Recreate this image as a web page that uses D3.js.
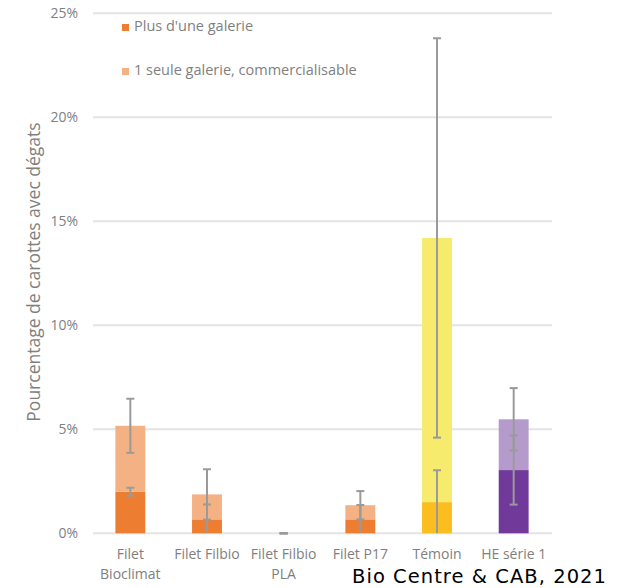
<!DOCTYPE html>
<html><head><meta charset="utf-8">
<script src="https://cdn.jsdelivr.net/npm/d3@7"></script>
<style>body{margin:0;background:#fff}svg{display:block}text{font-family:"Open Sans",Lato,sans-serif}</style>
</head><body><svg id="c" width="620" height="588"></svg>
<script>
const categories = ["Filet Bioclimat", "Filet Filbio", "Filet Filbio PLA", "Filet P17", "Témoin", "HE série 1"];
const labelLines = [["Filet", "Bioclimat"], ["Filet Filbio"], ["Filet Filbio", "PLA"], ["Filet P17"], ["Témoin"], ["HE série 1"]];
const plusUneGalerie = [2.0, 0.67, 0, 0.67, 1.5, 3.04];
const uneSeuleGalerie = [3.17, 1.2, 0, 0.68, 12.7, 2.44];
const errPlusUne = [0.19, 0.72, 0, 0.69, 1.53, 1.66];
const errTotal = [1.3, 1.21, 0, 0.68, 9.6, 1.5];
const yTicks = [0, 5, 10, 15, 20, 25];
const darkColors = ["#ED7D31", "#ED7D31", "#ED7D31", "#ED7D31", "#FBBE1E", "#70399A"];
const lightColors = ["#F4B183", "#F4B183", "#F4B183", "#F4B183", "#F6EB6D", "#B59BCB"];
const legendItems = ["Plus d'une galerie", "1 seule galerie, commercialisable"];

const svg = d3.select("#c");
const x = d3.scaleBand().domain(categories).range([92, 552]).paddingInner(0.61).paddingOuter(0.305);
const y = d3.scaleLinear().domain([0, 25]).range([533.3, 13.3]).clamp(true);

// gridlines
svg.append("g").selectAll("line").data(yTicks).join("line")
  .attr("x1", 93).attr("x2", 552).attr("y1", d => y(d)).attr("y2", d => y(d))
  .attr("stroke", "#e4e4e4").attr("stroke-width", 2);
// y tick labels
svg.append("g").selectAll("text").data(yTicks).join("text")
  .attr("x", 78).attr("y", d => y(d) + 5).attr("text-anchor", "end")
  .attr("font-size", 14).attr("fill", "#7f7f7f").text(d => d + "%");
// y title
svg.append("text").attr("transform", "translate(40,272) rotate(-90)")
  .attr("text-anchor", "middle").attr("font-size", 17.5).attr("fill", "#7f7f7f")
  .text("Pourcentage de carottes avec dégats");

const data = categories.map((c, i) => ({c, i, d: plusUneGalerie[i], l: uneSeuleGalerie[i], t: plusUneGalerie[i] + uneSeuleGalerie[i]}));
// bars
svg.append("g").selectAll("rect").data(data.filter(d => d.d > 0)).join("rect")
  .attr("x", d => x(d.c)).attr("width", x.bandwidth())
  .attr("y", d => y(d.d)).attr("height", d => y(0) - y(d.d)).attr("fill", d => darkColors[d.i]);
svg.append("g").selectAll("rect").data(data.filter(d => d.l > 0)).join("rect")
  .attr("x", d => x(d.c)).attr("width", x.bandwidth())
  .attr("y", d => y(d.t)).attr("height", d => y(d.d) - y(d.t)).attr("fill", d => lightColors[d.i]);

// error bars
const errs = [];
data.forEach(d => {
  errs.push({c: d.c, lo: d.d - errPlusUne[d.i], hi: d.d + errPlusUne[d.i]});
  errs.push({c: d.c, lo: d.t - errTotal[d.i], hi: d.t + errTotal[d.i]});
});
const eg = svg.append("g").attr("stroke", "#9a9a9a").attr("stroke-width", 2);
errs.forEach(e => {
  const cx = x(e.c) + x.bandwidth() / 2;
  eg.append("line").attr("x1", cx).attr("x2", cx).attr("y1", y(e.lo)).attr("y2", y(e.hi));
  [e.lo, e.hi].forEach(v => {
    if (v > 0 || e.hi <= 0) eg.append("line").attr("x1", cx - 4).attr("x2", cx + 4).attr("y1", y(v)).attr("y2", y(v));
  });
});

// x labels
const xl = svg.append("g");
labelLines.forEach((lines, i) => {
  const cx = x(categories[i]) + x.bandwidth() / 2;
  lines.forEach((t, k) => {
    xl.append("text").attr("x", cx).attr("y", 559 + k * 20).attr("text-anchor", "middle")
      .attr("font-size", 14).attr("fill", "#808080").text(t);
  });
});

// legend
const lg = svg.append("g");
legendItems.forEach((t, i) => {
  lg.append("rect").attr("x", 122).attr("y", 24 + i * 44).attr("width", 7).attr("height", 7)
    .attr("fill", i === 0 ? "#ED7D31" : "#F4B183");
  lg.append("text").attr("x", 134).attr("y", 31 + i * 44).attr("font-size", 14.5)
    .attr("fill", "#7f7f7f").text(t);
});

// source
svg.append("text").attr("x", 352).attr("y", 582.5)
  .style("font-family", "'DejaVu Sans', Verdana, sans-serif")
  .attr("font-size", 19.5).attr("textLength", 254).attr("lengthAdjust", "spacing")
  .attr("fill", "#000").text("Bio Centre & CAB, 2021");
</script></body></html>
